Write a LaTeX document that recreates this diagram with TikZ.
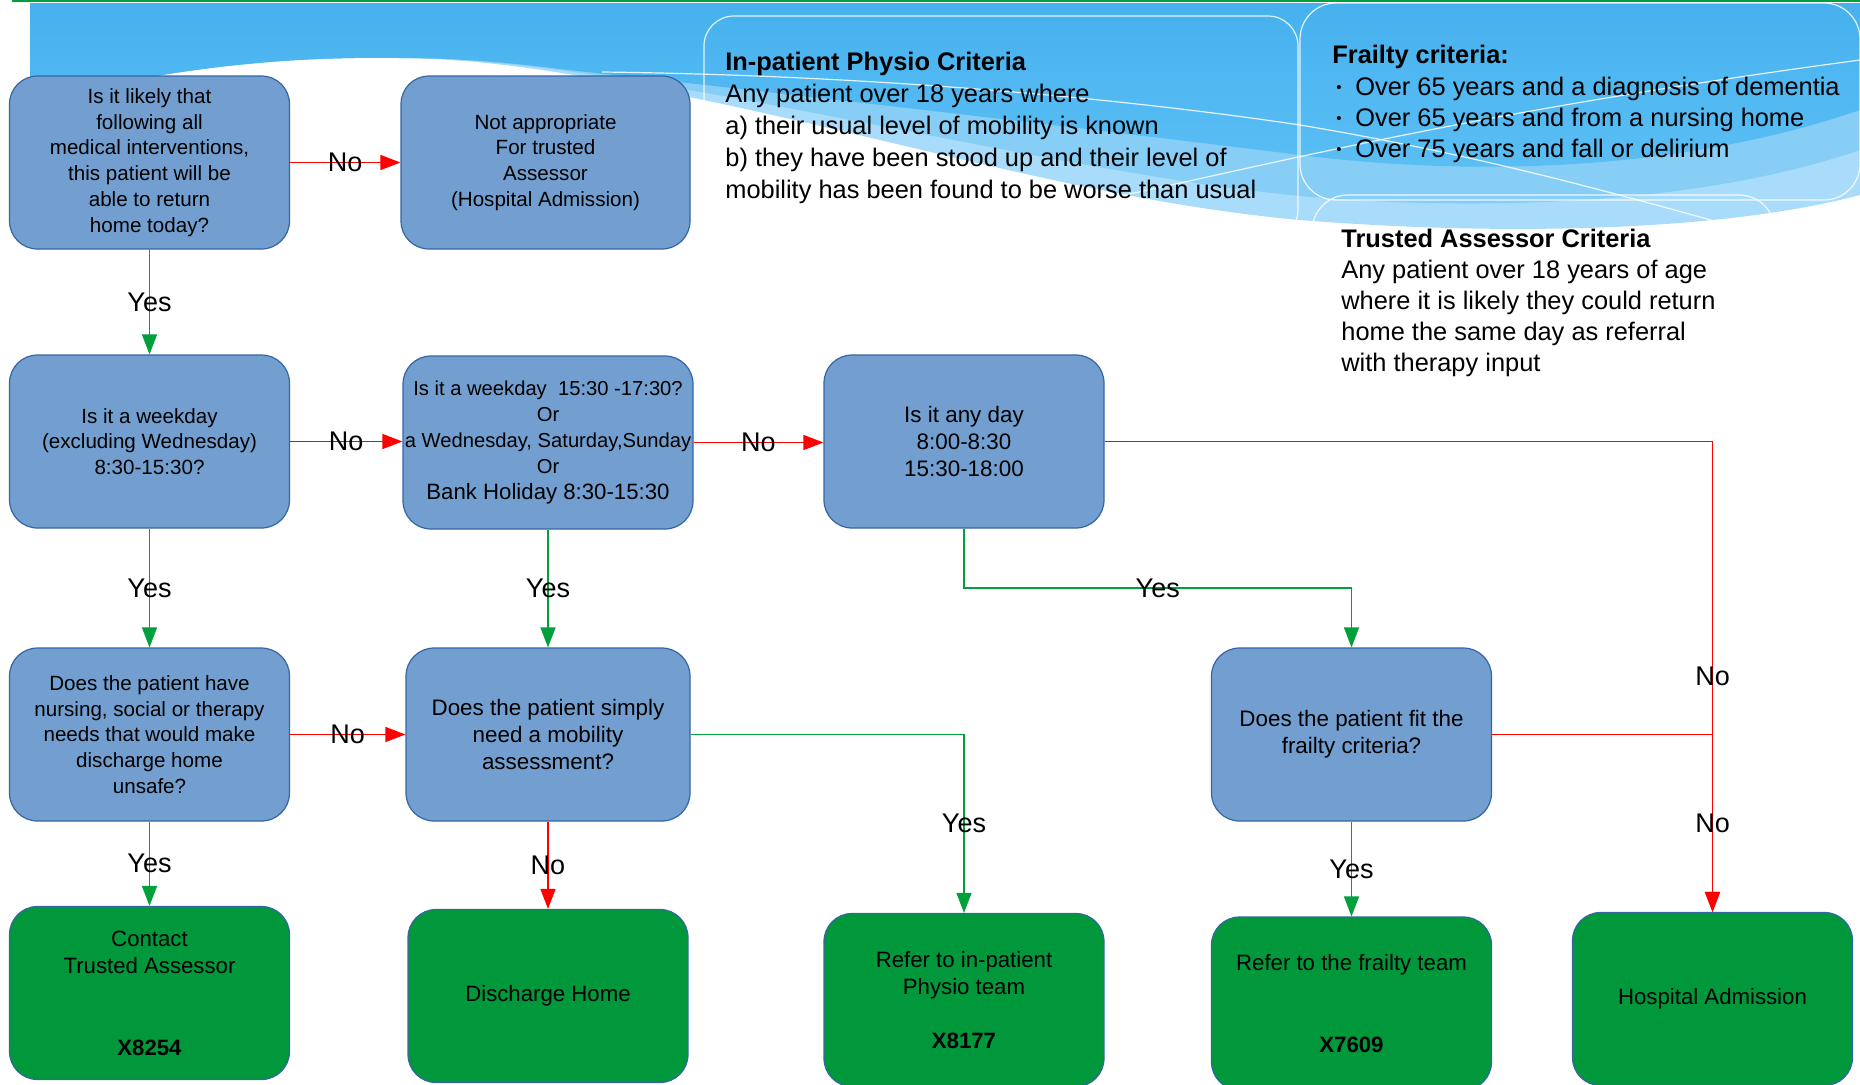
\documentclass[tikz,border=0pt]{standalone}
\usepackage{fontspec}
\setmainfont{Liberation Sans}
\usetikzlibrary{positioning}
\usetikzlibrary{calc}
\usetikzlibrary{arrows.meta}

\definecolor{boxblue}{RGB}{114,159,207}
\definecolor{boxedge}{RGB}{52,101,164}
\definecolor{boxgreen}{RGB}{0,152,58}
\definecolor{linegreen}{RGB}{0,160,60}
\definecolor{skytop}{RGB}{70,177,238}
\definecolor{skylow}{RGB}{92,191,245}
\definecolor{skymid}{RGB}{135,206,247}
\definecolor{skypale}{RGB}{168,220,250}

\begin{document}
\begin{tikzpicture}[x=0.5pt,y=-0.5pt,
  qbox/.style={draw=boxedge, line width=0.6pt, fill=boxblue, rounded corners=14pt,
    minimum width=140pt, minimum height=86.5pt, align=center, inner sep=0pt,
    font=\fontsize{10.3}{12.9}\selectfont},
  qbig/.style={qbox, font=\fontsize{11.2}{13.6}\selectfont},
  gbox/.style={qbox, fill=boxgreen, font=\fontsize{11.1}{13.6}\selectfont},
  yes/.style={draw=linegreen, line width=0.7pt, -{Triangle[length=10pt,width=7.5pt]}},
  no/.style={yes, draw=red},
  lbl/.style={font=\fontsize{13.5}{15}\selectfont, inner sep=0pt, text=black},
  hdr/.style={align=left, inner sep=0pt, anchor=north west},
  wave/.style={white, line width=0.6pt, opacity=0.85}]
\useasboundingbox (0,0) rectangle (1860,1084);

% sky band
\fill[skypale] (30,3) -- (1860,3) -- (1860,195) .. controls (1720,232) and (1500,236) .. (1300,220)
  .. controls (1100,202) and (900,140) .. (689,97) .. controls (560,70) and (480,59) .. (400,58)
  .. controls (330,57) and (250,60) .. (150,77) -- (30,110) -- cycle;
\fill[skymid] (30,3) -- (1860,3) -- (1860,150) .. controls (1700,205) and (1480,212) .. (1300,196)
  .. controls (1100,176) and (850,115) .. (640,82) .. controls (540,66) and (470,58) .. (400,58)
  .. controls (330,57) and (250,60) .. (150,77) -- (30,110) -- cycle;
\shade[top color=skytop, bottom color=skylow] (30,3) -- (1860,3) -- (1860,110)
  .. controls (1700,165) and (1500,180) .. (1300,155) .. controls (1100,130) and (800,95) .. (560,69)
  .. controls (490,60) and (440,58) .. (400,58) .. controls (330,57) and (250,60) .. (150,77)
  -- (30,110) -- cycle;

\draw[wave] (602,72) .. controls (850,75) and (1100,95) .. (1300,125)
  .. controls (1480,155) and (1620,195) .. (1718,222);
\draw[wave] (1100,200) .. controls (1250,170) and (1450,115) .. (1860,60);
\draw[wave, rounded corners=15pt] (704,16) rectangle (1298,240);
\draw[wave, rounded corners=18pt] (1300,3) rectangle (1860,200);
\draw[wave, rounded corners=18pt] (1312,195) rectangle (1775,300);

\draw[linegreen, line width=1.2pt] (12,1) -- (1860,1);

% criteria texts
\node[hdr, font=\fontsize{12.7}{15.9}\selectfont] (physiocrit) at (725,52)
  {\textbf{In-patient Physio Criteria}\\Any patient over 18 years where\\
   a) their usual level of mobility is known\\b) they have been stood up and their level of\\
   mobility has been found to be worse than usual};
\node[hdr, font=\fontsize{12.7}{15.6}\selectfont] (frailcrit) at (1332,45)
  {\textbf{Frailty criteria:}\\
   \hspace*{2pt}\makebox[9.5pt][l]{\raisebox{1.5pt}{\fontsize{7.5}{8}\selectfont\textbullet}}Over 65 years and a diagnosis of dementia\\
   \hspace*{2pt}\makebox[9.5pt][l]{\raisebox{1.5pt}{\fontsize{7.5}{8}\selectfont\textbullet}}Over 65 years and from a nursing home\\
   \hspace*{2pt}\makebox[9.5pt][l]{\raisebox{1.5pt}{\fontsize{7.5}{8}\selectfont\textbullet}}Over 75 years and fall or delirium};
\node[hdr, font=\fontsize{12.7}{15.4}\selectfont] (tacrit) at (1341,229)
  {\textbf{Trusted Assessor Criteria}\\Any patient over 18 years of age\\
   where it is likely they could return\\home the same day as referral\\with therapy input};

% questions
\node[qbox] (q1) at (149.5,162.5) {Is it likely that\\following all\\medical interventions,\\this patient will be\\able to return\\home today?};
\node[qbox, minimum width=144.5pt] (na) at (545.5,162.5) {Not appropriate\\For trusted\\Assessor\\(Hospital Admission)};
\node[qbox] (q2) at (149.5,441.5) {Is it a weekday\\(excluding Wednesday)\\8:30-15:30?};
\node[qbox, minimum width=145pt, font=\fontsize{10.1}{13}\selectfont] (q3) at (548,442.5)
  {Is it a weekday\ \ 15:30 -17:30?\\Or\\a Wednesday, Saturday,Sunday\\Or\\{\fontsize{11.1}{13}\selectfont Bank Holiday 8:30-15:30}};
\node[qbig] (q4) at (964,441.5) {Is it any day\\8:00-8:30\\15:30-18:00};
\node[qbox] (q5) at (149.5,734.5) {Does the patient have\\nursing, social or therapy\\needs that would make\\discharge home\\unsafe?};
\node[qbig, minimum width=142pt] (q6) at (548,734.5) {Does the patient simply\\need a mobility\\assessment?};
\node[qbig] (q7) at (1351.5,734.5) {Does the patient fit the\\frailty criteria?};

% outcomes
\node[gbox] (ta) at (149.5,993) {Contact\\Trusted Assessor\\\mbox{}\\\mbox{}\\\textbf{X8254}};
\node[gbox] (dh) at (548,996) {Discharge Home};
\node[gbox] (physio) at (964,1000) {Refer to in-patient\\Physio team\\\mbox{}\\\textbf{X8177}};
\node[gbox] (frail) at (1351.5,1003.5) {Refer to the frailty team\\\mbox{}\\\mbox{}\\\textbf{X7609}};
\node[gbox] (adm) at (1712.5,999) {Hospital Admission};

% connectors
\draw[no] (q1) -- node[lbl] (n1) {No} (na);
\draw[yes] (q1) -- node[lbl] (y1) {Yes} (q2);
\draw[no] (q2.east) -- node[lbl] (n2) {No} (q2.east -| q3.west);
\draw[no] (q3.east) -- node[lbl] (n3) {No} (q3.east -| q4.west);
\draw[yes] (q2) -- node[lbl] (y2) {Yes} (q5);
\draw[yes] (q3) -- node[lbl] (y3) {Yes} (q6);
\draw[no] (q5) -- node[lbl] (n4) {No} (q6);

\coordinate (yesturn) at ($(q4.south)!0.5!(q7.north)$);
\draw[yes] (q4.south) |- (yesturn) node[lbl] (y4) {Yes} -| (q7.north);
\draw[no] (q4.east) -| node[lbl, pos=0.75] (n5) {No} (adm.north);
\draw[no] (q7.east) -| node[lbl, pos=0.75] (n6) {No} (adm.north);
\draw[yes] (q6.east) -| node[lbl, pos=0.75] (y5) {Yes} (physio.north);

\draw[no] (q6) -- node[lbl] (n7) {No} (dh);
\draw[yes] (q5) -- node[lbl] (y6) {Yes} (ta);
\draw[yes] (q7) -- node[lbl] (y7) {Yes} (frail);

\end{tikzpicture}
\end{document}
